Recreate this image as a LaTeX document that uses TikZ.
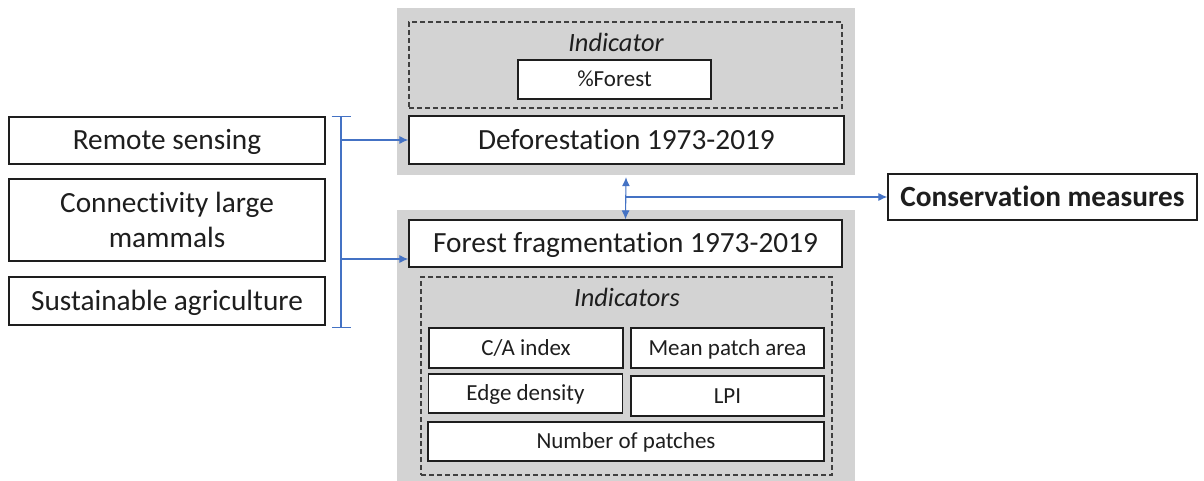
\documentclass[tikz,border=0pt]{standalone}
\usepackage{fontspec}
\setmainfont{Carlito}[Ligatures={NoCommon}]
\usetikzlibrary{arrows.meta}
\definecolor{panel}{RGB}{211,211,211}
\definecolor{linkblue}{RGB}{68,114,196}
\definecolor{edge}{RGB}{30,30,30}
\tikzset{
  panelbox/.style={fill=panel, draw=none, inner sep=0pt},
  framebox/.style={draw=edge, fill=white, line width=1.3pt, inner sep=0pt, align=center, text=edge},
  bigtext/.style={framebox, font=\fontsize{29.3}{35}\selectfont, text height=18.5pt, text depth=0pt},
  smalltext/.style={framebox, font=\fontsize{23}{27}\selectfont, text height=14.5pt, text depth=0pt},
  groupbox/.style={draw=edge!85, dash pattern=on 5pt off 3pt, line width=1.1pt, inner sep=0pt},
  label/.style={font=\fontsize{26.4}{30}\selectfont\itshape, inner sep=0pt, text=edge,
                text height=16.7pt, text depth=0pt},
  arr/.style={draw=linkblue, line width=1.1pt, -{Latex[length=9pt,width=8pt]}},
}
\begin{document}
\begin{tikzpicture}[x=1pt,y=-1pt]
\useasboundingbox (0,0) rectangle (1204,481);

% grey panels
\node[panelbox, minimum width=458pt, minimum height=167pt] (toppanel) at (626,91.5) {};
\node[panelbox, minimum width=458pt, minimum height=271pt] (botpanel) at (626,345.5) {};

% deforestation panel
\node[groupbox, minimum width=433pt, minimum height=86pt] (topgroup) at (625.5,65) {};
\node[label] (ind1) at (616,43.5) {Indicator};
\node[smalltext, minimum width=193pt, minimum height=39pt] (forest) at (614.5,79.5) {\%Forest};
\node[bigtext, minimum width=435pt, minimum height=48pt] (defo) at (626.5,140) {Deforestation 1973-2019};

% fragmentation panel
\node[bigtext, minimum width=433pt, minimum height=47pt] (frag) at (625.5,243.5) {Forest fragmentation 1973-2019};
\node[groupbox, minimum width=411pt, minimum height=198pt] (botgroup) at (626.5,376) {};
\node[label] (ind2) at (627,298.5) {Indicators};
\node[smalltext, minimum width=194pt, minimum height=40pt] (ca) at (526,348) {C/A index};
\node[smalltext, minimum width=193pt, minimum height=40pt] (mpa) at (727.5,348) {Mean patch area};
\node[smalltext, minimum width=194pt, minimum height=39pt] (ed) at (525.5,393.5) {Edge density};
\node[smalltext, minimum width=193pt, minimum height=40pt] (lpi) at (727.5,396) {LPI};
\node[smalltext, minimum width=396pt, minimum height=39pt] (np) at (626,441.5) {Number of patches};

% sources
\node[bigtext, minimum width=316pt, minimum height=47pt] (rs) at (167,140.5) {Remote sensing};
\node[framebox, font=\fontsize{29.3}{35}\selectfont, minimum width=316pt, minimum height=82pt] (clm) at (167,220) {Connectivity large\\mammals};
\node[bigtext, minimum width=316pt, minimum height=48pt] (sa) at (167,301) {Sustainable agriculture};

% outcome
\node[bigtext, font=\fontsize{29.3}{35}\selectfont\bfseries, minimum width=309pt, minimum height=46pt] (cons) at (1042.5,197) {Conservation measures};

% bracket joining the sources
\coordinate (btop) at (341,116);
\coordinate (bbot) at (341,328);
\draw[draw=linkblue, line width=1.1pt, {Bar[width=19pt]}-{Bar[width=19pt]}] (btop) -- (bbot);
\coordinate (b1) at (341,140);
\coordinate (b2) at (341,259);
\draw[arr] (b1) -- (b1 -| defo.west);
\draw[arr] (b2) -- (b2 -| frag.west);

% links between the panels and to the outcome
\draw[draw=linkblue, line width=1.1pt, {Latex[length=9pt,width=8pt]}-{Latex[length=9pt,width=8pt]}] ([yshift=-2pt]toppanel.south) -- (frag.north);
\draw[arr] (cons.west -| frag.north) -- (cons.west);
\end{tikzpicture}
\end{document}
